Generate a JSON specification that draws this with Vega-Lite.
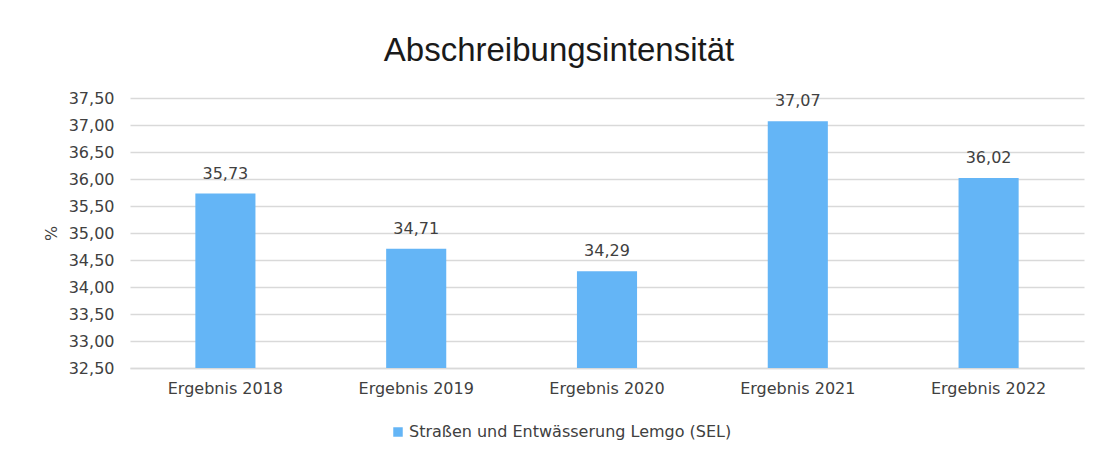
{
  "$schema": "https://vega.github.io/schema/vega-lite/v6.json",
  "width": 954,
  "height": 270,
  "autosize": {"type": "none"},
  "padding": {"left": 130, "top": 98, "right": 17, "bottom": 92},
  "background": "white",
  "title": {
    "text": "Abschreibungsintensität",
    "font": "Liberation Sans",
    "fontSize": 33,
    "fontWeight": "normal",
    "color": "#1a1a1a",
    "anchor": "middle",
    "frame": "group",
    "dx": -48,
    "offset": 22
  },
  "data": {
    "values": [
      {"Kategorie": "Ergebnis 2018", "Wert": 35.73, "Serie": "Straßen und Entwässerung Lemgo (SEL)"},
      {"Kategorie": "Ergebnis 2019", "Wert": 34.71, "Serie": "Straßen und Entwässerung Lemgo (SEL)"},
      {"Kategorie": "Ergebnis 2020", "Wert": 34.29, "Serie": "Straßen und Entwässerung Lemgo (SEL)"},
      {"Kategorie": "Ergebnis 2021", "Wert": 37.07, "Serie": "Straßen und Entwässerung Lemgo (SEL)"},
      {"Kategorie": "Ergebnis 2022", "Wert": 36.02, "Serie": "Straßen und Entwässerung Lemgo (SEL)"}
    ]
  },
  "encoding": {
    "x": {
      "field": "Kategorie",
      "type": "nominal",
      "sort": null,
      "scale": {"paddingInner": 0.685, "paddingOuter": 0.3425},
      "axis": {
        "title": null,
        "labelAngle": 0,
        "labelFont": "DejaVu Sans",
        "labelFontSize": 16,
        "labelColor": "#404040",
        "labelPadding": 12,
        "ticks": false,
        "domain": true,
        "domainColor": "#d9d9d9",
        "domainWidth": 1.5,
        "grid": false
      }
    },
    "y": {
      "field": "Wert",
      "type": "quantitative",
      "scale": {"domain": [32.5, 37.5], "zero": false, "nice": false},
      "axis": {
        "title": "%",
        "titleFont": "DejaVu Sans",
        "titleFontSize": 16,
        "titleFontWeight": "normal",
        "titleColor": "#404040",
        "titlePadding": 9,
        "values": [32.5, 33, 33.5, 34, 34.5, 35, 35.5, 36, 36.5, 37, 37.5],
        "format": ".2f",
        "labelFont": "DejaVu Sans",
        "labelFontSize": 16,
        "labelColor": "#404040",
        "labelPadding": 16,
        "ticks": false,
        "domain": false,
        "grid": true,
        "gridColor": "#d9d9d9",
        "gridWidth": 1.5
      }
    }
  },
  "layer": [
    {
      "mark": {"type": "bar", "color": "#64B5F6", "clip": true},
      "encoding": {
        "color": {
          "field": "Serie",
          "type": "nominal",
          "scale": {"range": ["#64B5F6"]},
          "legend": {
            "title": null,
            "orient": "none",
            "legendX": 260,
            "legendY": 326,
            "direction": "horizontal",
            "symbolType": "square",
            "symbolSize": 90,
            "symbolOpacity": 1,
            "labelFont": "DejaVu Sans",
            "labelFontSize": 16,
            "labelColor": "#404040",
            "labelOffset": 3,
            "labelLimit": 0
          }
        }
      }
    },
    {
      "mark": {
        "type": "text",
        "baseline": "bottom",
        "dy": -12,
        "font": "DejaVu Sans",
        "fontSize": 16,
        "color": "#404040"
      },
      "encoding": {
        "text": {"field": "Wert", "type": "quantitative", "format": ".2f"}
      }
    }
  ],
  "config": {
    "locale": {
      "number": {
        "decimal": ",",
        "thousands": ".",
        "grouping": [3],
        "currency": ["", " €"]
      }
    },
    "view": {"stroke": null}
  }
}
